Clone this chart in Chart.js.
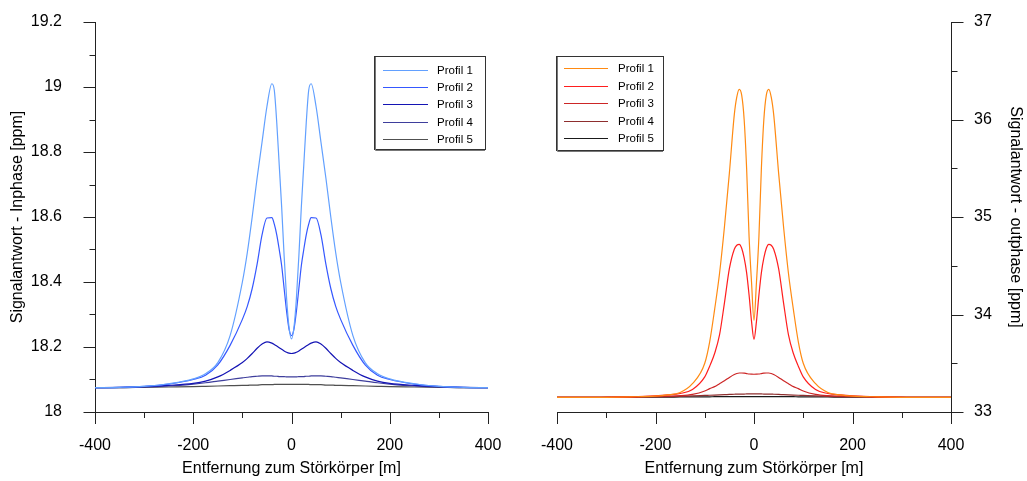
<!DOCTYPE html>
<html>
<head>
<meta charset="utf-8">
<script src="https://cdn.jsdelivr.net/npm/chart.js@4"></script>
<style>
  html, body { margin: 0; padding: 0; background: #fff; }
  #wrap { position: relative; width: 1027px; height: 481px; }
  #left { position: absolute; left: 0; top: 0; }
  #right { position: absolute; left: 515px; top: 0; }
</style>
</head>
<body>
<div id="wrap">
  <canvas id="left" width="515" height="481"></canvas>
  <canvas id="right" width="512" height="481"></canvas>
</div>
<script>
// Entfernung zum Störkörper [m]
const distances = [-400,-350,-300,-250,-200,-175,-150,-125,-100,-90,-80,-70,-60,-50,-40,-35,-30,-25,-20,-15,-10,-5,0,
  5,10,15,20,25,30,35,40,50,60,70,80,90,100,125,150,175,200,250,300,350,400];

const profileLabels = ['Profil 1', 'Profil 2', 'Profil 3', 'Profil 4', 'Profil 5'];

// Inphase [ppm]
const inphase1 = [18.075,18.076,18.079,18.087,18.102,18.118,18.152,18.235,18.40,18.49,18.60,18.72,18.83,18.94,19.01,18.99,18.89,18.76,18.63,18.48,18.35,18.26,18.225,
  18.26,18.35,18.48,18.63,18.76,18.89,18.99,19.01,18.94,18.83,18.72,18.60,18.49,18.40,18.235,18.152,18.118,18.102,18.087,18.079,18.076,18.075];
const inphase2 = [18.075,18.076,18.079,18.086,18.100,18.113,18.145,18.205,18.285,18.325,18.38,18.455,18.545,18.597,18.598,18.578,18.545,18.50,18.45,18.38,18.31,18.255,18.235,
  18.255,18.31,18.38,18.45,18.50,18.545,18.578,18.598,18.597,18.545,18.455,18.38,18.325,18.285,18.205,18.145,18.113,18.100,18.086,18.079,18.076,18.075];
const inphase3 = [18.075,18.076,18.078,18.082,18.088,18.095,18.108,18.128,18.152,18.165,18.18,18.196,18.209,18.216,18.212,18.208,18.203,18.198,18.193,18.188,18.184,18.181,18.18,
  18.181,18.184,18.188,18.193,18.198,18.203,18.208,18.212,18.216,18.209,18.196,18.18,18.165,18.152,18.128,18.108,18.095,18.088,18.082,18.078,18.076,18.075];
const inphase4 = [18.075,18.075,18.077,18.080,18.086,18.090,18.095,18.100,18.105,18.107,18.109,18.110,18.111,18.111,18.111,18.110,18.110,18.109,18.109,18.109,18.108,18.108,18.108,
  18.108,18.108,18.109,18.109,18.109,18.110,18.110,18.111,18.111,18.111,18.110,18.109,18.107,18.105,18.100,18.095,18.090,18.086,18.080,18.077,18.075,18.075];
const inphase5 = [18.075,18.075,18.076,18.077,18.078,18.079,18.080,18.081,18.082,18.082,18.083,18.083,18.084,18.084,18.084,18.085,18.085,18.085,18.085,18.085,18.085,18.085,18.085,
  18.085,18.085,18.085,18.085,18.085,18.085,18.085,18.084,18.084,18.084,18.083,18.083,18.082,18.082,18.081,18.080,18.079,18.078,18.077,18.076,18.075,18.075];

// Outphase [ppm]
const outphase1 = [33.15,33.15,33.151,33.155,33.163,33.175,33.20,33.29,33.50,33.72,34.05,34.42,34.90,35.45,36.05,36.23,36.31,36.25,36.00,35.50,34.80,34.33,33.94,
  34.33,34.80,35.50,36.00,36.25,36.31,36.23,36.05,35.45,34.90,34.42,34.05,33.72,33.50,33.29,33.20,33.175,33.163,33.155,33.151,33.15,33.15];
const outphase2 = [33.15,33.15,33.151,33.155,33.165,33.175,33.19,33.23,33.36,33.47,33.60,33.79,34.12,34.47,34.67,34.71,34.72,34.68,34.58,34.43,34.20,33.93,33.745,
  33.93,34.20,34.43,34.58,34.68,34.72,34.71,34.67,34.47,34.12,33.79,33.60,33.47,33.36,33.23,33.19,33.175,33.165,33.155,33.151,33.15,33.15];
const outphase3 = [33.15,33.15,33.152,33.155,33.16,33.163,33.167,33.18,33.215,33.24,33.26,33.29,33.32,33.355,33.385,33.395,33.40,33.40,33.398,33.394,33.39,33.388,33.387,
  33.388,33.39,33.394,33.398,33.40,33.40,33.395,33.385,33.355,33.32,33.29,33.26,33.24,33.215,33.18,33.167,33.163,33.16,33.155,33.152,33.15,33.15];
const outphase4 = [33.15,33.15,33.151,33.153,33.156,33.158,33.161,33.165,33.17,33.172,33.174,33.176,33.178,33.18,33.182,33.183,33.183,33.184,33.184,33.185,33.185,33.185,33.185,
  33.185,33.185,33.185,33.184,33.184,33.183,33.183,33.182,33.18,33.178,33.176,33.174,33.172,33.17,33.165,33.161,33.158,33.156,33.153,33.151,33.15,33.15];
const outphase5 = [33.15,33.15,33.15,33.151,33.152,33.153,33.154,33.155,33.156,33.156,33.157,33.157,33.157,33.158,33.158,33.158,33.158,33.158,33.158,33.158,33.158,33.158,33.158,
  33.158,33.158,33.158,33.158,33.158,33.158,33.158,33.158,33.158,33.157,33.157,33.157,33.156,33.156,33.155,33.154,33.153,33.152,33.151,33.15,33.15,33.15];

// beschriftete Achsenwerte
const xTickLabels = [-400, -200, 0, 200, 400];
const inphaseTickLabels = [18, 18.2, 18.4, 18.6, 18.8, 19, 19.2];
const outphaseTickLabels = [33, 34, 35, 36, 37];

const inphaseColors = ['#62a0ff', '#3558ff', '#1414b4', '#3e3e9c', '#505050'];
const outphaseColors = ['#ff8a12', '#ff1e1e', '#cc2626', '#8e2e2e', '#1a1a1a'];

const FONT = 'Arial, "Liberation Sans", sans-serif';
Chart.defaults.font.family = FONT;
Chart.defaults.color = '#000';

function makeDatasets(series, colors) {
  return series.map((vals, i) => ({
    label: profileLabels[i],
    data: distances.map((x, j) => ({ x: x, y: vals[j] })),
    borderColor: colors[i],
    borderWidth: 1.2,
    pointRadius: 0,
    fill: false,
    cubicInterpolationMode: 'monotone'
  }));
}

function labelFrom(list) {
  return v => list.some(l => Math.abs(l - v) < 1e-6) ? String(+(+v).toFixed(1)) : '';
}

// Haupt- und Zwischenstriche an den Achsen
const tickMarks = {
  id: 'tickMarks',
  afterDraw(chart) {
    const ctx = chart.ctx;
    ctx.save();
    ctx.strokeStyle = '#222';
    ctx.lineWidth = 1;
    Object.values(chart.scales).forEach(scale => {
      scale.ticks.forEach(t => {
        const len = t.label !== '' ? 12 : 6;
        const p = Math.round(scale.getPixelForValue(t.value)) + 0.5;
        ctx.beginPath();
        if (scale.isHorizontal()) {
          const y = Math.round(scale.top);
          ctx.moveTo(p, y); ctx.lineTo(p, y + len);
        } else if (scale.position === 'left') {
          const x = Math.round(scale.right) + 0.5;
          ctx.moveTo(x - len, p); ctx.lineTo(x, p);
        } else {
          const x = Math.round(scale.left) + 0.5;
          ctx.moveTo(x, p); ctx.lineTo(x + len, p);
        }
        ctx.stroke();
      });
    });
    ctx.restore();
  }
};

// Legende als Kasten im Diagramm
const boxLegend = {
  id: 'boxLegend',
  afterDraw(chart, args, o) {
    const ctx = chart.ctx;
    ctx.save();
    ctx.fillStyle = '#fff';
    ctx.fillRect(o.left, o.top, o.width, o.height);
    ctx.strokeStyle = '#333';
    ctx.lineWidth = 1;
    ctx.strokeRect(o.left + 0.5, o.top + 0.5, o.width, o.height);
    ctx.strokeStyle = '#777';
    ctx.beginPath();
    ctx.moveTo(o.left + 1.5, o.top + 1); ctx.lineTo(o.left + 1.5, o.top + o.height + 1.5);
    ctx.lineTo(o.left + o.width, o.top + o.height + 1.5);
    ctx.stroke();
    ctx.font = '11.5px ' + FONT;
    ctx.textBaseline = 'middle';
    chart.data.datasets.forEach((ds, i) => {
      const y = Math.round(o.firstRow + i * o.rowStep) + 0.5;
      ctx.strokeStyle = ds.borderColor;
      ctx.lineWidth = 1.2;
      ctx.beginPath();
      ctx.moveTo(o.lineFrom, y); ctx.lineTo(o.lineTo, y);
      ctx.stroke();
      ctx.fillStyle = '#000';
      ctx.fillText(ds.label, o.textX, y + 0.5);
    });
    ctx.restore();
  }
};

function xScale() {
  return {
    type: 'linear',
    position: 'bottom',
    min: -400, max: 400,
    afterFit: s => { s.height = 69; s.paddingLeft = 0; s.paddingRight = 0; },
    grid: { display: true, drawOnChartArea: false, drawTicks: false },
    border: { display: true, color: '#222', width: 1 },
    ticks: { stepSize: 100, autoSkip: false, maxRotation: 0, padding: 24,
             font: { size: 16 }, callback: labelFrom(xTickLabels) },
    title: { display: true, text: 'Entfernung zum Störkörper [m]', font: { size: 16 },
             padding: { top: 0, bottom: 3 } }
  };
}

function yFit(width) {
  return s => { s.width = width; s.paddingTop = 0; s.paddingBottom = 0; };
}

new Chart(document.getElementById('left'), {
  type: 'line',
  data: { datasets: makeDatasets([inphase1, inphase2, inphase3, inphase4, inphase5], inphaseColors) },
  options: {
    responsive: false,
    animation: false,
    layout: { padding: { top: 22, right: 27, left: 0, bottom: 0 } },
    scales: {
      x: xScale(),
      y: {
        type: 'linear',
        position: 'left',
        min: 18, max: 19.2,
        afterFit: yFit(95),
        grid: { display: true, drawOnChartArea: false, drawTicks: false },
        border: { display: true, color: '#222', width: 1 },
        ticks: { stepSize: 0.1, autoSkip: false, padding: 33, font: { size: 16 },
                 callback: labelFrom(inphaseTickLabels) },
        title: { display: true, text: 'Signalantwort - Inphase [ppm]', font: { size: 16 },
                 padding: { top: 8, bottom: 0 } }
      }
    },
    plugins: {
      legend: { display: false },
      tooltip: { enabled: false },
      boxLegend: { left: 374, top: 56, width: 111, height: 93,
                   lineFrom: 383, lineTo: 428, textX: 437, firstRow: 69.5, rowStep: 17.4 }
    }
  },
  plugins: [tickMarks, boxLegend]
});

new Chart(document.getElementById('right'), {
  type: 'line',
  data: { datasets: makeDatasets([outphase1, outphase2, outphase3, outphase4, outphase5], outphaseColors) },
  options: {
    responsive: false,
    animation: false,
    layout: { padding: { top: 22, right: 0, left: 42, bottom: 0 } },
    scales: {
      x: xScale(),
      y: {
        type: 'linear',
        position: 'right',
        min: 33, max: 37,
        afterFit: yFit(76),
        grid: { display: true, drawOnChartArea: false, drawTicks: false },
        border: { display: true, color: '#222', width: 1 },
        ticks: { stepSize: 0.5, autoSkip: false, padding: 23, font: { size: 16 },
                 callback: labelFrom(outphaseTickLabels) },
        title: { display: true, text: 'Signalantwort - outphase [ppm]', font: { size: 16 },
                 padding: { top: 2, bottom: 0 } }
      }
    },
    plugins: {
      legend: { display: false },
      tooltip: { enabled: false },
      boxLegend: { left: 41, top: 56, width: 107, height: 94,
                   lineFrom: 49, lineTo: 93, textX: 103, firstRow: 68.3, rowStep: 17.5 }
    }
  },
  plugins: [tickMarks, boxLegend]
});
</script>
</body>
</html>
